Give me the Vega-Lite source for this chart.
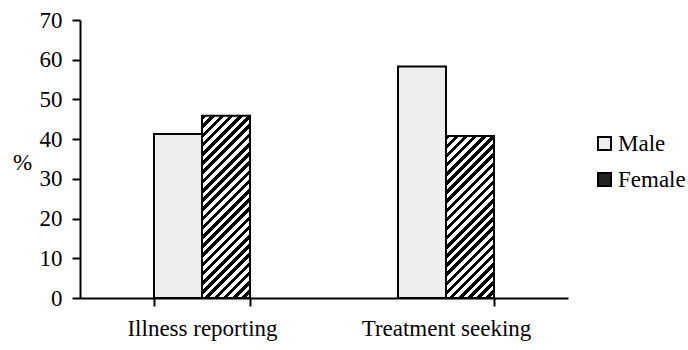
{
  "$schema": "https://vega.github.io/schema/vega-lite/v6.json",
  "width": 488,
  "height": 278,
  "autosize": "none",
  "padding": {"left": 80, "top": 20, "right": 120, "bottom": 52},
  "background": "white",
  "config": {
    "font": "Times New Roman",
    "view": {"stroke": null},
    "text": {"font": "Times New Roman"},
    "axis": {
      "domainColor": "black", "domainWidth": 2, "tickColor": "black", "tickWidth": 2, "tickSize": 8,
      "labelColor": "black", "labelFontSize": 23, "titleColor": "black", "titleFontSize": 23,
      "labelFont": "Times New Roman", "titleFont": "Times New Roman",
      "titleFontWeight": "normal", "grid": false
    },
    "legend": {"labelFont": "Times New Roman", "titleFont": "Times New Roman"}
  },
  "data": {"values": [
    {"activity": "Illness reporting", "sex": "Male", "pct": 41.3},
    {"activity": "Illness reporting", "sex": "Female", "pct": 45.9},
    {"activity": "Treatment seeking", "sex": "Male", "pct": 58.3},
    {"activity": "Treatment seeking", "sex": "Female", "pct": 40.8}
  ]},
  "mark": {"type": "bar", "stroke": "black", "strokeWidth": 2, "opacity": 1, "fillOpacity": 1},
  "encoding": {
    "x": {"field": "activity", "type": "nominal", "sort": ["Illness reporting", "Treatment seeking"],
      "scale": {"paddingInner": 0.6066, "paddingOuter": 0.3033},
      "axis": {"title": null, "labelAngle": 0, "tickBand": "extent", "labelPadding": 11}},
    "xOffset": {"field": "sex", "type": "nominal", "sort": ["Male", "Female"],
      "scale": {"paddingInner": 0, "paddingOuter": 0}},
    "y": {"field": "pct", "type": "quantitative", "stack": null,
      "scale": {"domain": [0, 70], "nice": false},
      "axis": {"values": [0, 10, 20, 30, 40, 50, 60, 70], "title": "%", "titleAngle": 0,
        "titleX": -58, "titleY": 142, "titleAlign": "center", "titleBaseline": "middle", "labelPadding": 10}},
    "fill": {
      "condition": [
        {"test": "datum.sex === 'Female' && datum.activity === 'Illness reporting'",
         "value": {"gradient": "linear", "x1": 0, "y1": 0, "x2": 0.311, "y2": 1.1815, "stops": [
          {"offset":0,"color":"#000"},
          {"offset":0.02,"color":"#000"},{"offset":0.02,"color":"#fff"},
          {"offset":0.04,"color":"#fff"},{"offset":0.04,"color":"#000"},
          {"offset":0.06,"color":"#000"},{"offset":0.06,"color":"#fff"},
          {"offset":0.08,"color":"#fff"},{"offset":0.08,"color":"#000"},
          {"offset":0.1,"color":"#000"},{"offset":0.1,"color":"#fff"},
          {"offset":0.12,"color":"#fff"},{"offset":0.12,"color":"#000"},
          {"offset":0.14,"color":"#000"},{"offset":0.14,"color":"#fff"},
          {"offset":0.16,"color":"#fff"},{"offset":0.16,"color":"#000"},
          {"offset":0.18,"color":"#000"},{"offset":0.18,"color":"#fff"},
          {"offset":0.2,"color":"#fff"},{"offset":0.2,"color":"#000"},
          {"offset":0.22,"color":"#000"},{"offset":0.22,"color":"#fff"},
          {"offset":0.24,"color":"#fff"},{"offset":0.24,"color":"#000"},
          {"offset":0.26,"color":"#000"},{"offset":0.26,"color":"#fff"},
          {"offset":0.28,"color":"#fff"},{"offset":0.28,"color":"#000"},
          {"offset":0.3,"color":"#000"},{"offset":0.3,"color":"#fff"},
          {"offset":0.32,"color":"#fff"},{"offset":0.32,"color":"#000"},
          {"offset":0.34,"color":"#000"},{"offset":0.34,"color":"#fff"},
          {"offset":0.36,"color":"#fff"},{"offset":0.36,"color":"#000"},
          {"offset":0.38,"color":"#000"},{"offset":0.38,"color":"#fff"},
          {"offset":0.4,"color":"#fff"},{"offset":0.4,"color":"#000"},
          {"offset":0.42,"color":"#000"},{"offset":0.42,"color":"#fff"},
          {"offset":0.44,"color":"#fff"},{"offset":0.44,"color":"#000"},
          {"offset":0.46,"color":"#000"},{"offset":0.46,"color":"#fff"},
          {"offset":0.48,"color":"#fff"},{"offset":0.48,"color":"#000"},
          {"offset":0.5,"color":"#000"},{"offset":0.5,"color":"#fff"},
          {"offset":0.52,"color":"#fff"},{"offset":0.52,"color":"#000"},
          {"offset":0.54,"color":"#000"},{"offset":0.54,"color":"#fff"},
          {"offset":0.56,"color":"#fff"},{"offset":0.56,"color":"#000"},
          {"offset":0.58,"color":"#000"},{"offset":0.58,"color":"#fff"},
          {"offset":0.6,"color":"#fff"},{"offset":0.6,"color":"#000"},
          {"offset":0.62,"color":"#000"},{"offset":0.62,"color":"#fff"},
          {"offset":0.64,"color":"#fff"},{"offset":0.64,"color":"#000"},
          {"offset":0.66,"color":"#000"},{"offset":0.66,"color":"#fff"},
          {"offset":0.68,"color":"#fff"},{"offset":0.68,"color":"#000"},
          {"offset":0.7,"color":"#000"},{"offset":0.7,"color":"#fff"},
          {"offset":0.72,"color":"#fff"},{"offset":0.72,"color":"#000"},
          {"offset":0.74,"color":"#000"},{"offset":0.74,"color":"#fff"},
          {"offset":0.76,"color":"#fff"},{"offset":0.76,"color":"#000"},
          {"offset":0.78,"color":"#000"},{"offset":0.78,"color":"#fff"},
          {"offset":0.8,"color":"#fff"},{"offset":0.8,"color":"#000"},
          {"offset":0.82,"color":"#000"},{"offset":0.82,"color":"#fff"},
          {"offset":0.84,"color":"#fff"},{"offset":0.84,"color":"#000"},
          {"offset":0.86,"color":"#000"},{"offset":0.86,"color":"#fff"},
          {"offset":0.88,"color":"#fff"},{"offset":0.88,"color":"#000"},
          {"offset":0.9,"color":"#000"},{"offset":0.9,"color":"#fff"},
          {"offset":0.92,"color":"#fff"},{"offset":0.92,"color":"#000"},
          {"offset":0.94,"color":"#000"},{"offset":0.94,"color":"#fff"},
          {"offset":0.96,"color":"#fff"},{"offset":0.96,"color":"#000"},
          {"offset":0.98,"color":"#000"},{"offset":0.98,"color":"#fff"},
          {"offset":1,"color":"#fff"}
         ]}},
        {"test": "datum.sex === 'Female' && datum.activity === 'Treatment seeking'",
         "value": {"gradient": "linear", "x1": 0, "y1": 0, "x2": 0.3531, "y2": 1.1917, "stops": [
          {"offset":0,"color":"#000"},
          {"offset":0.02174,"color":"#000"},{"offset":0.02174,"color":"#fff"},
          {"offset":0.04348,"color":"#fff"},{"offset":0.04348,"color":"#000"},
          {"offset":0.06522,"color":"#000"},{"offset":0.06522,"color":"#fff"},
          {"offset":0.08696,"color":"#fff"},{"offset":0.08696,"color":"#000"},
          {"offset":0.1087,"color":"#000"},{"offset":0.1087,"color":"#fff"},
          {"offset":0.13043,"color":"#fff"},{"offset":0.13043,"color":"#000"},
          {"offset":0.15217,"color":"#000"},{"offset":0.15217,"color":"#fff"},
          {"offset":0.17391,"color":"#fff"},{"offset":0.17391,"color":"#000"},
          {"offset":0.19565,"color":"#000"},{"offset":0.19565,"color":"#fff"},
          {"offset":0.21739,"color":"#fff"},{"offset":0.21739,"color":"#000"},
          {"offset":0.23913,"color":"#000"},{"offset":0.23913,"color":"#fff"},
          {"offset":0.26087,"color":"#fff"},{"offset":0.26087,"color":"#000"},
          {"offset":0.28261,"color":"#000"},{"offset":0.28261,"color":"#fff"},
          {"offset":0.30435,"color":"#fff"},{"offset":0.30435,"color":"#000"},
          {"offset":0.32609,"color":"#000"},{"offset":0.32609,"color":"#fff"},
          {"offset":0.34783,"color":"#fff"},{"offset":0.34783,"color":"#000"},
          {"offset":0.36957,"color":"#000"},{"offset":0.36957,"color":"#fff"},
          {"offset":0.3913,"color":"#fff"},{"offset":0.3913,"color":"#000"},
          {"offset":0.41304,"color":"#000"},{"offset":0.41304,"color":"#fff"},
          {"offset":0.43478,"color":"#fff"},{"offset":0.43478,"color":"#000"},
          {"offset":0.45652,"color":"#000"},{"offset":0.45652,"color":"#fff"},
          {"offset":0.47826,"color":"#fff"},{"offset":0.47826,"color":"#000"},
          {"offset":0.5,"color":"#000"},{"offset":0.5,"color":"#fff"},
          {"offset":0.52174,"color":"#fff"},{"offset":0.52174,"color":"#000"},
          {"offset":0.54348,"color":"#000"},{"offset":0.54348,"color":"#fff"},
          {"offset":0.56522,"color":"#fff"},{"offset":0.56522,"color":"#000"},
          {"offset":0.58696,"color":"#000"},{"offset":0.58696,"color":"#fff"},
          {"offset":0.6087,"color":"#fff"},{"offset":0.6087,"color":"#000"},
          {"offset":0.63043,"color":"#000"},{"offset":0.63043,"color":"#fff"},
          {"offset":0.65217,"color":"#fff"},{"offset":0.65217,"color":"#000"},
          {"offset":0.67391,"color":"#000"},{"offset":0.67391,"color":"#fff"},
          {"offset":0.69565,"color":"#fff"},{"offset":0.69565,"color":"#000"},
          {"offset":0.71739,"color":"#000"},{"offset":0.71739,"color":"#fff"},
          {"offset":0.73913,"color":"#fff"},{"offset":0.73913,"color":"#000"},
          {"offset":0.76087,"color":"#000"},{"offset":0.76087,"color":"#fff"},
          {"offset":0.78261,"color":"#fff"},{"offset":0.78261,"color":"#000"},
          {"offset":0.80435,"color":"#000"},{"offset":0.80435,"color":"#fff"},
          {"offset":0.82609,"color":"#fff"},{"offset":0.82609,"color":"#000"},
          {"offset":0.84783,"color":"#000"},{"offset":0.84783,"color":"#fff"},
          {"offset":0.86957,"color":"#fff"},{"offset":0.86957,"color":"#000"},
          {"offset":0.8913,"color":"#000"},{"offset":0.8913,"color":"#fff"},
          {"offset":0.91304,"color":"#fff"},{"offset":0.91304,"color":"#000"},
          {"offset":0.93478,"color":"#000"},{"offset":0.93478,"color":"#fff"},
          {"offset":0.95652,"color":"#fff"},{"offset":0.95652,"color":"#000"},
          {"offset":0.97826,"color":"#000"},{"offset":0.97826,"color":"#fff"},
          {"offset":1,"color":"#fff"}
         ]}}
      ],
      "field": "sex", "type": "nominal", "sort": ["Male", "Female"],
      "scale": {"domain": ["Male", "Female"], "range": ["#eeeeee", "#222222"]},
      "legend": {
        "title": null, "orient": "none", "legendX": 513, "legendY": 112,
        "symbolType": "square", "symbolSize": 169, "symbolStrokeColor": "black", "symbolStrokeWidth": 2,
        "symbolOpacity": 1, "labelFont": "Times New Roman",
        "labelFontSize": 23, "labelColor": "black", "labelOffset": 2, "rowPadding": 12, "padding": 0
      }
    }
  }
}
